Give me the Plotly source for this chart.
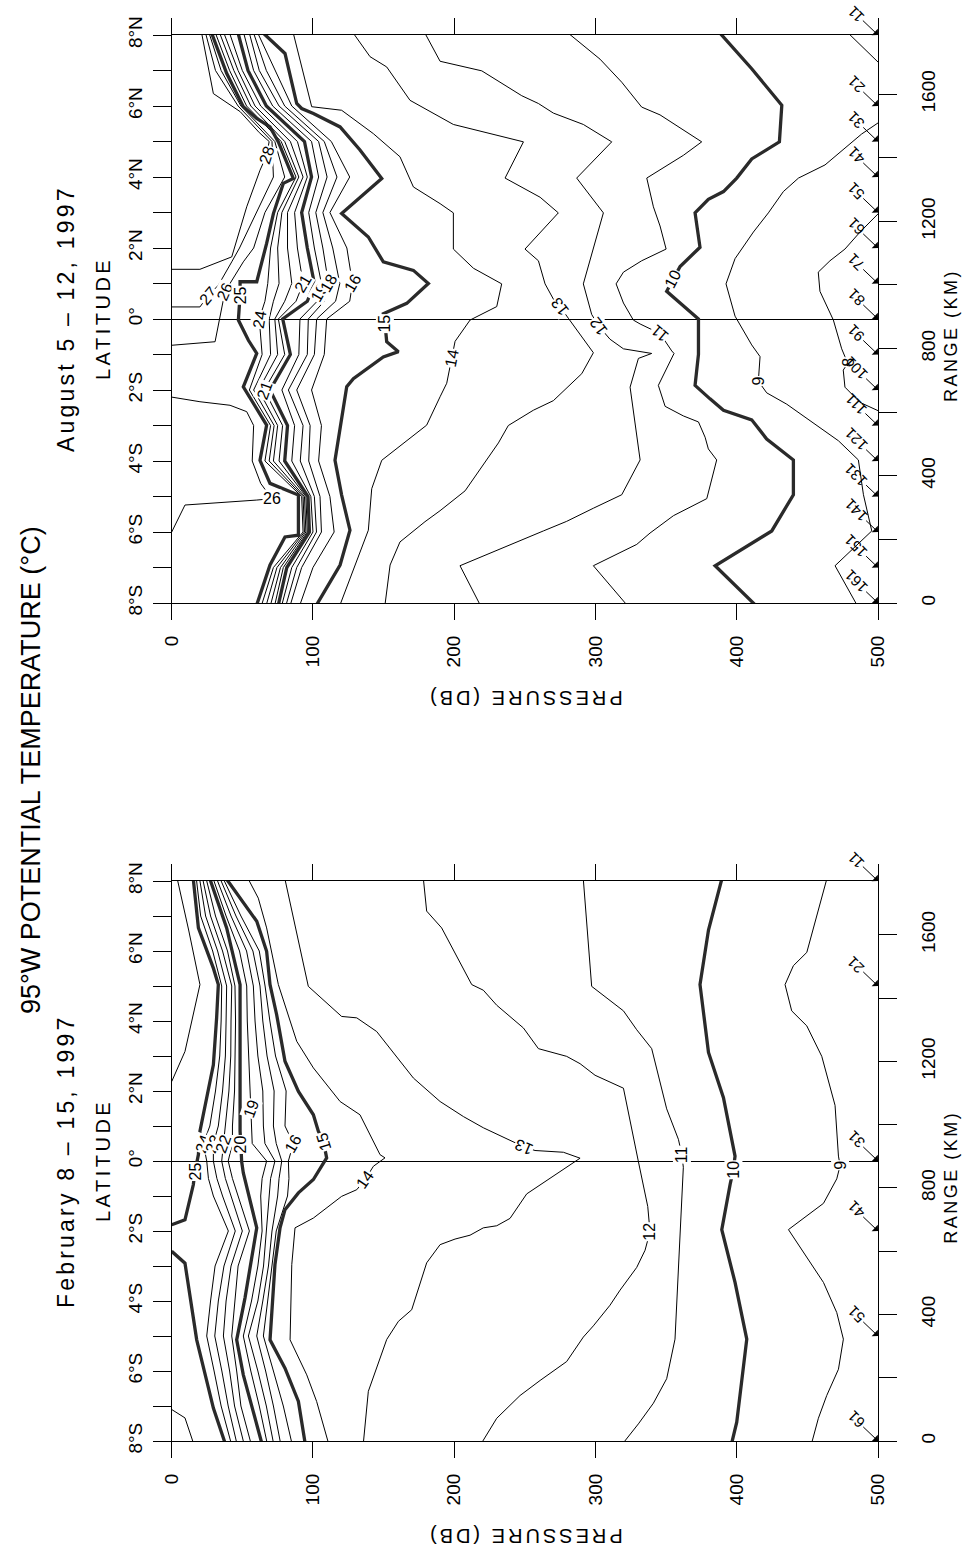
import plotly.graph_objects as go

FIG_W, FIG_H = 964, 1555
FONT = "Liberation Sans, Arial, sans-serif"

# ---------------- axes ----------------
PRESSURE_TICKS = [0, 100, 200, 300, 400, 500]
LAT_TICKS = list(range(-8, 9))
LAT_LABELS = ["8°S", "", "6°S", "", "4°S", "", "2°S", "", "0°", "",
              "2°N", "", "4°N", "", "6°N", "", "8°N"]
RANGE_TICKS = list(range(0, 1601, 200))
RANGE_LABELS = ["0", "", "400", "", "800", "", "1200", "", "1600"]

# ---------------- stations ----------------
AUG_STATION_LAT = [-8, -7, -6, -5, -4, -3, -2, -1, 0, 1, 2, 3, 4, 5, 6, 8]
AUG_STATION_ID = ["161", "151", "141", "131", "121", "111", "101", "91",
                  "81", "71", "61", "51", "41", "31", "21", "11"]
FEB_STATION_LAT = [-8, -5, -2, 0, 5, 8]
FEB_STATION_ID = ["61", "51", "41", "31", "21", "11"]

# ======== August 5-12, 1997 : isotherm pressure (dbar) along latitude ========
aug_t28_p = [21.2, 29.5, 48.5, 62.0, 69.0, 67.2, 62.5, 53.1, 42.5, 20.0, 0.0]
aug_t28_lat = [8.05, 6.35, 5.84, 5.25, 5.0, 4.61, 4.19, 3.16, 1.75, 1.4, 1.4]

aug_t27_p = [24, 31, 47, 71, 72, 60, 48, 42.5, 33, 26, 20, 0]
aug_t27_lat = [8.05, 7, 6, 5, 4, 3, 2, 1.61, 0.95, 0.67, 0.34, 0.34]

aug_t26n_p = [26.5, 35, 49, 73, 80, 66, 58, 50.7, 37.7, 35, 30.7, 0]
aug_t26n_lat = [8.05, 7, 6, 5, 4, 3, 2, 1.61, 0.77, 0.2, -0.64, -0.74]

aug_t26s_p = [0, 20, 41.3, 53.1, 58, 57, 63, 70.8, 60.2, 9.4, 0]
aug_t26s_lat = [-2.2, -2.33, -2.43, -2.61, -3.0, -4.0, -4.63, -5.06, -5.1, -5.24, -6.0]

aug_t25_p = [28.3, 38.9, 50.7, 60.2, 69.6, 75.5, 86.1, 79.0, 72.0, 67.2, 60.2, 48.4,
             48.4, 47.2, 47.2, 54.3, 60.2, 50.7, 60.2, 67.2, 62.5, 69.6, 89.7, 89.7,
             80.2, 69.6, 60.2]
aug_t25_lat = [8.05, 6.92, 5.98, 5.65, 5.41, 4.99, 3.96, 3.82, 2.97, 2.13, 1.05, 1.05,
               0.67, 0.15, -0.03, -0.6, -0.97, -1.91, -2.52, -2.99, -3.98, -4.63, -4.96,
               -6.09, -6.14, -6.93, -8.05]

AUG_GRID_LAT = [8.05, 7, 6, 5, 4, 3, 2, 1, 0.5, 0, -1, -2, -3, -4, -5, -6, -7, -8.05]
aug_t24_p = [31, 41, 53, 77.5, 88, 75, 70, 68, 66, 62, 64, 55, 70, 66, 92, 93, 72, 63.7]
aug_t23_p = [34, 44, 56, 80, 90, 78, 75, 76, 72, 69, 70, 58, 72.5, 69, 93, 94, 74.5, 67]
aug_t22_p = [37, 47, 59, 84, 93, 82, 82, 85, 80, 73, 75, 61.5, 75, 72, 94, 95, 77, 70]
aug_t21_p = [41, 50, 63, 89, 96, 87, 89, 93, 88, 75.5, 80, 65.5, 78.5, 76, 95, 96, 79, 73]
aug_t20_p = [47, 54, 67, 94, 99, 92, 96, 101, 96, 78.6, 84, 69.6, 82, 80, 96.5, 97.5, 81.5, 75.5]
aug_t19_p = [51, 58, 71.5, 99, 104, 97, 101, 106, 103, 90.8, 90, 78, 87, 85, 98.5, 100, 85, 78]
aug_t18_p = [55, 62, 76, 104, 110, 102, 107, 111, 108, 96.7, 96, 82.6, 93, 91, 101, 102.5, 88.5, 81]
aug_t17_p = [58, 67, 80, 108, 117, 107, 114, 119, 116, 102.6, 101, 88.5, 98, 97, 105, 106, 92, 84]
aug_t16_p = [61, 73, 85, 113, 126, 112, 124, 128, 126, 109.7, 108, 99, 106, 104, 112, 115, 100, 90.8]

aug_t15_p = [64.9, 80.2, 88.5, 92.0, 100.3, 119.2, 133.3, 148.7, 120.3, 139.2, 149.8, 171.1,
             181.7, 166.4, 149.8, 151.0, 152.2, 160.5, 149.8, 140.4, 128.6, 123.9, 120.3,
             115.6, 120.3, 126.2, 119.2, 102.6]
aug_t15_lat = [8.05, 7.48, 6.07, 5.93, 5.79, 5.41, 4.76, 3.96, 2.97, 2.31, 1.61, 1.37, 1.0,
               0.44, 0.15, -0.13, -0.64, -0.92, -1.07, -1.35, -1.68, -1.91, -2.8, -3.98,
               -4.96, -5.95, -6.93, -8.05]

aug_t14_p = [86.1, 92, 99.1, 120.3, 142.8, 161.6, 171.1, 190, 199.4, 199.4, 213.6, 233.6,
             230.1, 211.2, 200.6, 198.2, 194.7, 190, 180.5, 148.7, 141.6, 139.2, 119.2]
aug_t14_lat = [8.05, 7.1, 5.98, 5.88, 5.22, 4.57, 3.72, 3.25, 2.99, 1.97, 1.43, 0.99, 0.35,
               -0.03, -0.63, -1.11, -1.81, -2.19, -2.99, -3.98, -4.78, -5.95, -8.05]

aug_t13_p = [128.6, 140.4, 152.2, 168.7, 199.4, 249, 236, 260.8, 273.7, 250.1, 259.6, 264.3,
             270.2, 274.9, 280.8, 298.5, 290.3, 270.2, 256, 238.3, 231.3, 207.7, 190, 179.3,
             161.6, 154.6, 151]
aug_t13_lat = [8.05, 7.39, 7.1, 6.16, 5.48, 4.99, 3.97, 3.43, 2.99, 1.97, 1.64, 0.99, 0.56,
               0.35, 0.02, -0.95, -1.54, -2.3, -2.57, -3.0, -3.49, -4.84, -5.4, -5.71, -6.28,
               -6.93, -8.05]

aug_t12_p = [179.3, 190, 219.5, 247.8, 259.6, 270.2, 291.4, 311.5, 286.7, 305.6, 291.4, 297.3,
             302.1, 310.3, 319.8, 339.8, 330.4, 324.5, 331.6, 318.6, 298.5, 279.6, 263.1,
             204.1, 218.3]
aug_t12_lat = [8.05, 7.26, 6.99, 6.29, 6.07, 5.8, 5.48, 4.99, 3.97, 2.99, 0.99, 0.13, -0.19,
               -0.57, -0.84, -0.97, -1.11, -1.92, -3.97, -4.95, -5.33, -5.7, -5.97, -6.95,
               -8.05]

aug_t11_p = [280.8, 303.2, 318.6, 332.7, 345.7, 362.2, 375.2, 362.2, 336.3, 341.0, 345.7, 350.0,
             332.7, 319.8, 314.6, 319.8, 326.8, 331.6, 345.7, 354.0, 355.6, 344.5, 349.3,
             362.2, 372.9, 377.6, 379.9, 385.8, 378.8, 355.2, 338.6, 329.2, 312.7, 298.5, 322.1]
aug_t11_lat = [8.05, 7.32, 6.67, 5.97, 5.75, 5.32, 4.99, 4.61, 3.97, 3.16, 2.62, 1.97, 1.64,
               1.32, 0.99, 0.45, -0.03, -0.14, -0.41, -0.9, -0.97, -1.87, -2.46, -2.73, -2.9,
               -3.33, -3.66, -3.97, -5.06, -5.54, -6.03, -6.35, -6.68, -6.95, -8.05]

aug_t10_p = [388.2, 410.6, 431.9, 430.2, 410.6, 400, 390.6, 379.9, 370.5, 374.0, 359.9, 355,
             350.4, 359.9, 372.9, 372.9, 370.5, 381.1, 390.6, 410.6, 421.2, 440.1, 440.1,
             424.8, 384.7, 413]
aug_t10_lat = [8.05, 7.05, 6.02, 4.99, 4.51, 3.97, 3.59, 3.37, 2.99, 2.02, 1.48, 1.13, 0.78,
               0.45, 0, -1.0, -1.87, -2.25, -2.57, -2.84, -3.38, -3.97, -4.95, -5.97, -6.95,
               -8.05]

aug_t9a_p = [479, 501]
aug_t9a_lat = [8.05, 7.2]
aug_t9b_p = [501, 488.4, 462.5, 443.7, 433.0, 422.4, 411.8, 398.8, 392.4, 398.8, 410.6, 416.5,
             415.3, 421.2, 435.4, 456.6, 472.0, 486.1, 489.7, 495.6, 469.6, 485.0]
aug_t9b_lat = [5.55, 5.21, 4.34, 3.97, 3.59, 2.99, 2.45, 1.7, 0.99, 0.08, -0.73, -1.06, -1.75,
               -2.08, -2.4, -3.0, -3.43, -3.97, -4.95, -5.97, -6.95, -8.05]

aug_t8_p = [501, 487.3, 476.6, 466.0, 457.7, 458.9, 468.4, 474.3, 476.6, 479, 475.4, 476.6,
            487.3, 501]
aug_t8_lat = [3.0, 2.45, 1.97, 1.64, 1.32, 0.78, -0.03, -0.84, -1.06, -1.22, -1.44, -1.92,
              -2.35, -2.6]

# ======== February 8-15, 1997 ========
feb_t26n_p = [4, 12, 20, 9.4, 0]
feb_t26n_lat = [8.05, 6.6, 5.04, 3.13, 2.27]
feb_t26s_p = [0, 9.4, 15.3]
feb_t26s_lat = [-7.1, -7.34, -8.05]

feb_t25n_p = [15.3, 18.9, 29.5, 33, 31.8, 29.5, 20, 18.9, 16.5, 15.3, 9.4, 0]
feb_t25n_lat = [8.05, 6.66, 5.51, 5.04, 4.09, 2.75, 0.85, 0.18, -0.3, -0.68, -1.68, -1.82]
feb_t25s_p = [0, 9.4, 17.7, 29.5, 37.7]
feb_t25s_lat = [-2.58, -2.92, -5.11, -7.06, -8.05]

FEB_GRID_LAT = [8.05, 7, 6, 5, 4, 3, 2, 1, 0.5, 0, -0.5, -1, -2, -3, -4, -5, -6, -7, -8.05]
feb_t24_p = [17.5, 20.5, 29, 35.4, 35, 34, 31, 27, 22.4, 24.8, 26, 29.5, 40.1, 30.7, 27.5, 24.8, 30, 35, 42]
feb_t23_p = [19.8, 24, 32.5, 38.9, 38.5, 38, 36, 33, 29.5, 29.5, 32, 36, 45, 37, 33, 30.5, 35.5, 40, 46]
feb_t22_p = [22, 27.5, 36, 42.5, 42, 41.8, 40.5, 38, 36.6, 35.4, 38, 42, 50, 42, 38.5, 36.6, 41, 44.5, 51]
feb_t21_p = [24.5, 31, 39.5, 44.8, 45.2, 45, 44.5, 43, 43, 40, 43, 47, 55, 47, 45, 42.5, 46, 49, 56]
feb_t19_p = [29.5, 38.5, 48, 53.1, 53.5, 54.5, 56, 56.6, 57, 67.2, 64, 63, 64, 61, 56.5, 50.7, 56, 62, 67.5]
feb_t18_p = [32, 42, 53, 57.8, 59, 61, 64.5, 64.9, 66, 73.1, 70, 69, 67.5, 65, 61, 54.3, 61, 67, 72]
feb_t17_p = [34.5, 45.5, 57.5, 62.5, 64.5, 67.5, 72.5, 72, 74, 77.9, 76, 75, 71, 68.5, 64.5, 60.2, 66.5, 72, 77]
feb_t16_p = [36.7, 49, 62, 66.1, 69.5, 73.5, 81, 80.2, 86.1, 82.6, 83, 82, 74, 71, 68, 64.9, 72, 79, 85]

feb_t20_p = [27.1, 38.9, 48.4, 48.4, 49.0, 49.5, 50.7, 60.2, 51.9, 46, 50.7, 63.7]
feb_t20_lat = [8.05, 6.66, 5.04, 0.85, 0.47, -0.01, -0.34, -1.91, -3.91, -5.11, -6.11, -8.05]

feb_t15_p = [38.9, 49.5, 60.2, 67.2, 69.6, 74.3, 80.2, 89.7, 100.3, 103.8, 107.4, 109.7, 100.3,
             89.7, 80.2, 76.7, 73.1, 69.6, 80.2, 89.7, 94.4]
feb_t15_lat = [8.05, 7.47, 6.85, 5.99, 5.04, 4.18, 2.85, 1.99, 1.32, 0.85, 0.56, 0.09, -0.53,
               -0.91, -1.39, -1.91, -2.96, -5.11, -5.92, -6.87, -8.05]

feb_t14_p = [54.3, 61.3, 67.2, 75.5, 88.5, 100.3, 119.2, 133.3, 147.5, 151, 142.8, 136.9, 131,
             120.3, 100.3, 87.3, 85, 83.8, 95.6, 102.6, 110.9]
feb_t14_lat = [8.05, 7.51, 6.66, 5.04, 3.42, 2.66, 1.7, 1.32, 0.18, 0.09, -0.15, -0.53, -0.82,
               -1.01, -1.63, -1.91, -2.96, -5.11, -6.11, -6.87, -8.05]

feb_t13_p = [80.2, 96.7, 120.3, 131, 145.1, 171.1, 190, 206.5, 220.6, 234.8, 249, 257.2, 277.3,
             289.1, 277.3, 265.5, 251.3, 239.5, 230.1, 220.6, 211.2, 200.6, 190, 180.5, 169.9,
             160.5, 152.2, 139.2, 135.7]
feb_t13_lat = [8.05, 4.99, 4.13, 4.09, 3.7, 2.37, 1.7, 1.27, 0.95, 0.68, 0.41, 0.3, 0.25, 0.08,
               -0.24, -0.56, -0.94, -1.64, -1.85, -1.91, -2.12, -2.23, -2.39, -2.91, -4.25,
               -4.58, -5.1, -6.58, -8.05]

feb_t12_p = [178.2, 180.5, 191.1, 212.4, 220.6, 230.1, 249, 259.6, 279.6, 289.1, 299.7, 319.8,
             330.4, 337, 338.6, 335.1, 329.2, 317.4, 310.3, 298.5, 291.4, 279.6, 260.8, 246.6,
             230.1, 219.5]
feb_t12_lat = [8.05, 7.14, 6.66, 5.04, 4.88, 4.45, 3.8, 3.21, 2.99, 2.78, 2.45, 2.08, -0.02,
               -1.3, -2.02, -2.55, -3.04, -3.69, -4.12, -4.71, -5.03, -5.73, -6.27, -6.7,
               -7.35, -8.05]

feb_t11_p = [291.4, 297.3, 319.8, 329.2, 339.8, 350.4, 358.7, 361.1, 362.2, 356.3, 350.4, 341.0,
             330.4, 319.8]
feb_t11_lat = [8.05, 4.99, 4.29, 3.75, 3.21, 1.49, 0.62, 0.19, -0.18, -5.09, -6.22, -6.92,
               -7.51, -8.05]

feb_t10_p = [389.4, 380, 374, 380, 390.6, 398.8, 397.6, 395.3, 389.4, 398.8, 407.1, 400, 396.5]
feb_t10_lat = [8.05, 6.6, 5.04, 3.1, 1.81, 0.14, -0.24, -0.67, -1.96, -3.47, -5.09, -7.46, -8.05]

feb_t9_p = [463.7, 456.6, 449.6, 440.1, 434.2, 438.9, 449.6, 460.2, 469.6, 472.0, 473.2, 470.8,
            461.4, 436.6, 447.2, 461.4, 470.8, 475.5, 472.0, 463.7, 457.8, 453.1]
feb_t9_lat = [8.05, 6.98, 5.96, 5.58, 5.04, 4.29, 3.86, 2.99, 1.59, 0.14, -0.13, -0.51, -1.21,
              -1.96, -2.61, -3.47, -4.33, -5.09, -5.95, -6.7, -7.35, -8.05]

# isotherm tables: name -> (temperature, pressures, latitudes)
AUG_LINES = {
    "t28": (28, aug_t28_p, aug_t28_lat), "t27": (27, aug_t27_p, aug_t27_lat),
    "t26n": (26, aug_t26n_p, aug_t26n_lat), "t26s": (26, aug_t26s_p, aug_t26s_lat),
    "t25": (25, aug_t25_p, aug_t25_lat),
    "t24": (24, aug_t24_p, AUG_GRID_LAT), "t23": (23, aug_t23_p, AUG_GRID_LAT),
    "t22": (22, aug_t22_p, AUG_GRID_LAT), "t21": (21, aug_t21_p, AUG_GRID_LAT),
    "t20": (20, aug_t20_p, AUG_GRID_LAT), "t19": (19, aug_t19_p, AUG_GRID_LAT),
    "t18": (18, aug_t18_p, AUG_GRID_LAT), "t17": (17, aug_t17_p, AUG_GRID_LAT),
    "t16": (16, aug_t16_p, AUG_GRID_LAT),
    "t15": (15, aug_t15_p, aug_t15_lat), "t14": (14, aug_t14_p, aug_t14_lat),
    "t13": (13, aug_t13_p, aug_t13_lat), "t12": (12, aug_t12_p, aug_t12_lat),
    "t11": (11, aug_t11_p, aug_t11_lat), "t10": (10, aug_t10_p, aug_t10_lat),
    "t9a": (9, aug_t9a_p, aug_t9a_lat), "t9b": (9, aug_t9b_p, aug_t9b_lat),
    "t8": (8, aug_t8_p, aug_t8_lat),
}
# label placement: (line, vertex, fraction toward next vertex, text angle)
AUG_LABELS = [
    ("t28", 5, 0, -72), ("t27", 9, 0, -50), ("t26n", 8, 0, -66), ("t25", 12, 0, -90),
    ("t24", 9, 0, -80), ("t21", 7, 0, -60), ("t19", 7, 0.5, -60), ("t18", 7, 0, -60),
    ("t16", 7, 0, -60), ("t21", 11, 0, -70), ("t26s", 7, 0, 0),
    ("t15", 15, 0, -90), ("t14", 15, 0, -79), ("t13", 13, 0, -128), ("t12", 12, 0, -127),
    ("t11", 18, 0, -140), ("t10", 11, 0, -62), ("t9b", 12, 0, -90), ("t8", 9, 0, -90),
]

FEB_LINES = {
    "t26n": (26, feb_t26n_p, feb_t26n_lat), "t26s": (26, feb_t26s_p, feb_t26s_lat),
    "t25n": (25, feb_t25n_p, feb_t25n_lat), "t25s": (25, feb_t25s_p, feb_t25s_lat),
    "t24": (24, feb_t24_p, FEB_GRID_LAT), "t23": (23, feb_t23_p, FEB_GRID_LAT),
    "t22": (22, feb_t22_p, FEB_GRID_LAT), "t21": (21, feb_t21_p, FEB_GRID_LAT),
    "t20": (20, feb_t20_p, feb_t20_lat),
    "t19": (19, feb_t19_p, FEB_GRID_LAT), "t18": (18, feb_t18_p, FEB_GRID_LAT),
    "t17": (17, feb_t17_p, FEB_GRID_LAT), "t16": (16, feb_t16_p, FEB_GRID_LAT),
    "t15": (15, feb_t15_p, feb_t15_lat), "t14": (14, feb_t14_p, feb_t14_lat),
    "t13": (13, feb_t13_p, feb_t13_lat), "t12": (12, feb_t12_p, feb_t12_lat),
    "t11": (11, feb_t11_p, feb_t11_lat), "t10": (10, feb_t10_p, feb_t10_lat),
    "t9": (9, feb_t9_p, feb_t9_lat),
}
FEB_LABELS = [
    ("t25n", 8, 0, -90), ("t24", 8, 0, -70), ("t23", 8, 0, -70), ("t22", 8, 0, -70),
    ("t20", 4, 0, -90), ("t19", 6, 0.5, -70), ("t16", 8, 0, -60), ("t15", 10, 0, -107),
    ("t14", 11, 0, -55), ("t13", 10, 0, -157), ("t12", 14, 0, -90), ("t11", 7, 0, -90),
    ("t10", 6, 0, -90), ("t9", 10, 0, -90),
]

BOLD_LEVELS = {10, 15, 20, 25}

# ---------------- page geometry (pixels) ----------------
PLOT_LEFT, PLOT_RIGHT = 171.7, 878.0
SECTIONS = [
    # (subtitle, top px, bottom px, km span, lines, labels, station lats, ids, x, y_lat, y_km)
    ("August 5 – 12, 1997", 35.0, 603.0, 1786.0, AUG_LINES, AUG_LABELS,
     AUG_STATION_LAT, AUG_STATION_ID, "x", "y", "y2"),
    ("February 8 – 15, 1997", 881.0, 1441.0, 1770.0, FEB_LINES, FEB_LABELS,
     FEB_STATION_LAT, FEB_STATION_ID, "x2", "y3", "y4"),
]


def fx(px):
    return px / FIG_W


def fy(py):
    return 1 - py / FIG_H


def spaced(text, px):
    return f'<span style="letter-spacing:{px}px">{text}</span>'


def axis_key(ref):
    return ("xaxis" if ref[0] == "x" else "yaxis") + ref[1:]


def page_text(x_px, y_px, text, size, angle):
    return dict(x=fx(x_px), y=fy(y_px), xref="paper", yref="paper", text=text,
                showarrow=False, textangle=angle, xanchor="center", yanchor="middle",
                font=dict(family=FONT, size=size, color="black"))


fig = go.Figure()
tick_font = dict(family=FONT, size=19, color="black")
layout_axes = {}
annotations = []

for (subtitle, top, bot, km_max, lines, labels, st_lat, st_id, xa, ya_lat, ya_km) in SECTIONS:
    # isotherms: thin ones first, heavy 5-degree ones on top
    order = sorted(lines.items(), key=lambda kv: kv[1][0] in BOLD_LEVELS)
    for name, (level, p, lat) in order:
        bold = level in BOLD_LEVELS
        fig.add_trace(go.Scatter(
            x=p, y=lat, xaxis=xa, yaxis=ya_lat, mode="lines",
            line=dict(color="#2a2a2a" if bold else "black", width=3.3 if bold else 1.0),
            hoverinfo="skip", showlegend=False))
    # empty trace so the range (km) axis is instantiated
    fig.add_trace(go.Scatter(x=[], y=[], xaxis=xa, yaxis=ya_km, mode="lines",
                             hoverinfo="skip", showlegend=False))

    for name, k, t, ang in labels:
        level, p, lat = lines[name]
        if t:
            xv = p[k] + t * (p[k + 1] - p[k])
            yv = lat[k] + t * (lat[k + 1] - lat[k])
        else:
            xv, yv = p[k], lat[k]
        annotations.append(dict(
            x=xv, y=yv, xref=xa, yref=ya_lat, text=str(level), showarrow=False,
            textangle=ang, bgcolor="white", borderpad=0, xanchor="center", yanchor="middle",
            font=dict(family=FONT, size=16, color="black")))

    for lat_s, sid in zip(st_lat, st_id):
        annotations.append(dict(
            x=500, y=lat_s, xref=xa, yref=ya_lat, text=sid, showarrow=True,
            arrowhead=1, arrowsize=1.5, arrowwidth=1, arrowcolor="black",
            ax=-22, ay=-21, textangle=-135, standoff=0,
            font=dict(family=FONT, size=15, color="black")))

    ydom = [fy(bot), fy(top)]
    line_style = dict(showline=True, linecolor="black", linewidth=1.3, ticks="outside",
                      tickwidth=1.4, tickcolor="black", showgrid=False, fixedrange=True,
                      tickfont=tick_font, automargin=False)
    layout_axes[axis_key(xa)] = dict(
        domain=[fx(PLOT_LEFT), fx(PLOT_RIGHT)], range=[0, 500], anchor=ya_lat,
        side="bottom", mirror="ticks", ticklen=16, tickvals=PRESSURE_TICKS,
        ticktext=[str(v) for v in PRESSURE_TICKS], tickangle=-90, zeroline=False,
        ticklabelstandoff=8, **line_style)
    layout_axes[axis_key(ya_lat)] = dict(
        domain=ydom, range=[-8, 8], anchor=xa, side="left", ticklen=18,
        tickvals=LAT_TICKS, ticktext=LAT_LABELS, tickangle=-90, zeroline=True,
        zerolinecolor="black", zerolinewidth=1, ticklabelstandoff=3, **line_style)
    layout_axes[axis_key(ya_km)] = dict(
        range=[0, km_max], overlaying=ya_lat, anchor=xa, side="right", ticklen=18,
        tickvals=RANGE_TICKS, ticktext=RANGE_LABELS, tickangle=-90, zeroline=False,
        ticklabelstandoff=15, **line_style)

    mid = (top + bot) / 2
    annotations += [
        page_text(66, mid, spaced(subtitle, 3.2), 23, -90),
        page_text(103, mid, spaced("LATITUDE", 3.5), 20, -90),
        page_text(951, bot - (bot - top) * 0.47, spaced("RANGE (KM)", 2.5), 18, -90),
        page_text((PLOT_LEFT + PLOT_RIGHT) / 2, bot + 95, spaced("PRESSURE (DB)", 3), 20, 180),
    ]

annotations.append(page_text(31, 770, "95°W POTENTIAL TEMPERATURE (°C)", 27, -90))

fig.update_layout(
    template="none",
    width=FIG_W, height=FIG_H, autosize=False,
    margin=dict(l=0, r=0, t=0, b=0, pad=0),
    paper_bgcolor="white", plot_bgcolor="white",
    font=dict(family=FONT, color="black"),
    showlegend=False, annotations=annotations, **layout_axes)

fig.write_html("out.html")
